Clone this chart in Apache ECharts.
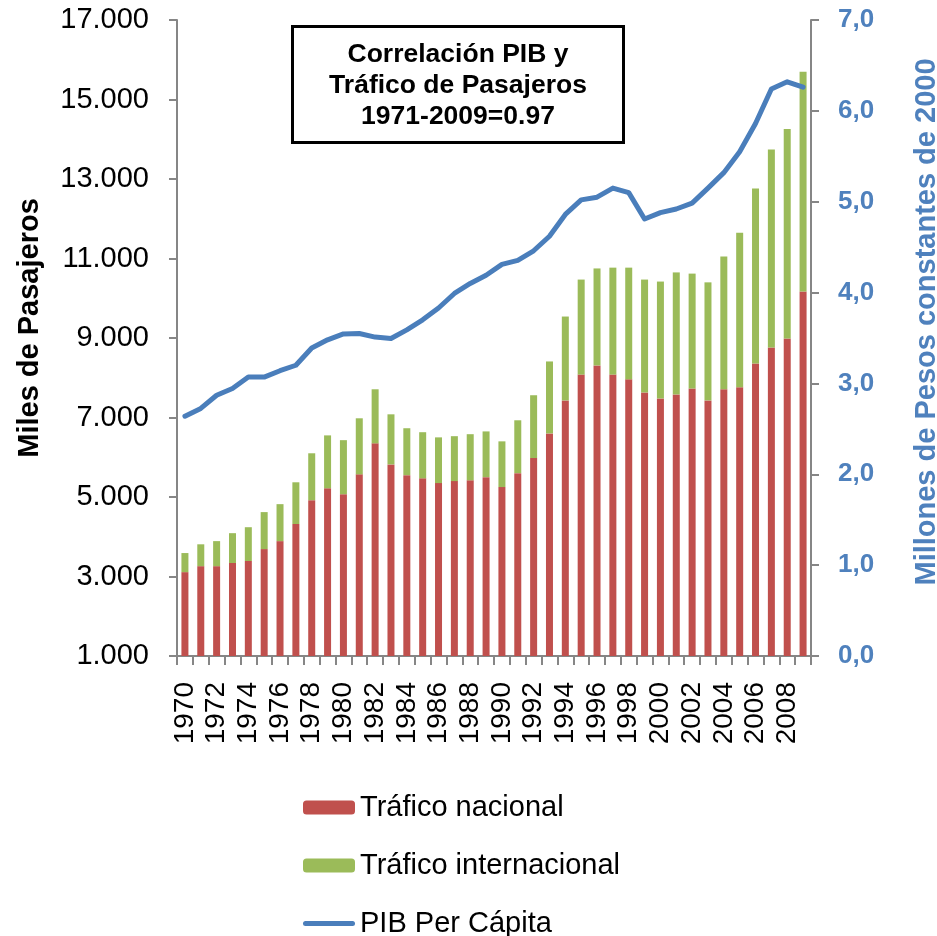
<!DOCTYPE html>
<html>
<head>
<meta charset="utf-8">
<script src="https://cdn.jsdelivr.net/npm/echarts@6/dist/echarts.min.js"></script>
<style>
html,body{margin:0;padding:0;background:#fff;}
#c{width:937px;height:936px;}
</style>
</head>
<body>
<div id="c"></div>
<script>
var years = [];
for (var y = 1970; y <= 2009; y++) years.push(String(y));

var nacional = [3110,3260,3260,3340,3390,3690,3890,4320,4920,5220,
                5070,5570,6350,5820,5550,5470,5350,5400,5420,5500,
                5250,5600,5980,6600,7430,8080,8310,8080,7960,7630,
                7480,7580,7730,7430,7710,7760,8360,8760,8990,10170];

var internacional = [480,550,630,750,850,930,930,1050,1180,1330,
                     1360,1410,1360,1260,1180,1160,1150,1130,1160,1150,
                     1150,1330,1580,1810,2110,2390,2440,2690,2810,2840,
                     2940,3070,2890,2970,3340,3890,4400,4980,5270,5530];

var pibPerCapita = [2.64,2.725,2.87,2.945,3.07,3.07,3.14,3.20,3.39,3.48,
                    3.545,3.55,3.51,3.495,3.59,3.70,3.83,3.99,4.10,4.19,
                    4.31,4.355,4.46,4.62,4.86,5.02,5.05,5.15,5.10,4.81,
                    4.88,4.92,4.985,5.15,5.32,5.55,5.86,6.24,6.32,6.26];

var seriesNames = ['Tráfico nacional', 'Tráfico internacional', 'PIB Per Cápita'];
var titleText = 'Correlación PIB y\nTráfico de Pasajeros\n1971-2009=0.97';
var leftAxisName = 'Miles de Pasajeros';
var rightAxisName = 'Millones de Pesos constantes de 2000';

var FONT = 'Liberation Sans, Arial, sans-serif';
var AXIS_GRAY = '#868686';
var LINE_ICON = 'path://M2.5,0 H49.5 A2.5,2.5 0 0 1 49.5,5 H2.5 A2.5,2.5 0 0 1 2.5,0 Z';

var chart = echarts.init(document.getElementById('c'), null, {renderer: 'canvas'});
chart.setOption({
  animation: false,
  backgroundColor: '#ffffff',
  textStyle: {fontFamily: FONT},
  title: {
    text: titleText,
    left: 421,
    top: 26,
    textAlign: 'center',
    borderColor: '#000',
    borderWidth: 3,
    padding: [13, 37, 11, 37],
    textStyle: {fontFamily: FONT, fontSize: 26.5, fontWeight: 'bold', color: '#000', lineHeight: 31, align: 'center'}
  },
  grid: {left: 177, right: 126, top: 20, bottom: 280, containLabel: false, outerBoundsMode: 'none'},
  legend: {
    orient: 'vertical',
    left: 303,
    top: 793,
    height: 150,
    padding: 0,
    itemWidth: 52,
    itemHeight: 14,
    itemGap: 29,
    textStyle: {fontFamily: FONT, fontSize: 29, color: '#000', lineHeight: 28},
    data: [
      {name: seriesNames[0]},
      {name: seriesNames[1]},
      {name: seriesNames[2], icon: LINE_ICON}
    ]
  },
  xAxis: {
    type: 'category',
    data: years,
    boundaryGap: true,
    axisLine: {lineStyle: {color: AXIS_GRAY, width: 2}},
    axisTick: {show: true, interval: 0, length: 9, lineStyle: {color: AXIS_GRAY, width: 2}},
    axisLabel: {interval: 1, rotate: 90, margin: 26, fontSize: 28, color: '#000', fontFamily: FONT}
  },
  yAxis: [{
    type: 'value',
    min: 1000, max: 17000, interval: 2000,
    name: leftAxisName,
    nameLocation: 'middle',
    nameRotate: 90,
    nameGap: 133,
    nameTextStyle: {fontFamily: FONT, fontSize: 29, fontWeight: 'bold', color: '#000', padding: [0, 0, 0, 20]},
    splitLine: {show: false},
    axisLine: {show: true, lineStyle: {color: AXIS_GRAY, width: 2}},
    axisTick: {show: true, length: 8, lineStyle: {color: AXIS_GRAY, width: 2}},
    axisLabel: {
      margin: 28, fontSize: 29, color: '#000', fontFamily: FONT,
      formatter: function (v) { return String(v).replace(/\B(?=(\d{3})+(?!\d))/g, '.'); }
    }
  }, {
    type: 'value',
    min: 0, max: 7, interval: 1,
    position: 'right',
    name: rightAxisName,
    nameLocation: 'middle',
    nameRotate: 90,
    nameGap: 101,
    nameTextStyle: {fontFamily: FONT, fontSize: 29, fontWeight: 'bold', color: '#4F81BD', padding: [0, 0, 0, 32]},
    splitLine: {show: false},
    axisLine: {show: true, lineStyle: {color: AXIS_GRAY, width: 2}},
    axisTick: {show: true, length: 8, lineStyle: {color: AXIS_GRAY, width: 2}},
    axisLabel: {
      margin: 27, fontSize: 26, fontWeight: 'bold', color: '#4F81BD', fontFamily: FONT,
      formatter: function (v) { return v.toFixed(1).replace('.', ','); }
    }
  }],
  series: [{
    name: seriesNames[0],
    type: 'bar',
    stack: 'trafico',
    barWidth: 7,
    itemStyle: {color: '#C0504D'},
    data: nacional
  }, {
    name: seriesNames[1],
    type: 'bar',
    stack: 'trafico',
    barWidth: 7,
    itemStyle: {color: '#9BBB59'},
    data: internacional
  }, {
    name: seriesNames[2],
    type: 'line',
    yAxisIndex: 1,
    symbol: 'none',
    showSymbol: false,
    lineStyle: {color: '#4A7EBB', width: 5, cap: 'round', join: 'round'},
    itemStyle: {color: '#4A7EBB'},
    data: pibPerCapita
  }]
});
</script>
</body>
</html>
